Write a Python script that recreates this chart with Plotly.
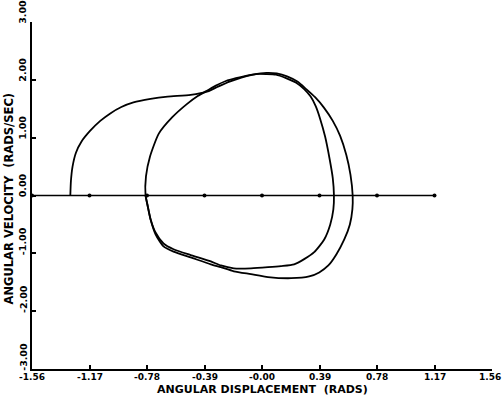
import plotly.graph_objects as go

# Transient trajectory (starts at -1.30 rad, spirals onto the cycle)
trans_x = [-1.30, -1.296, -1.285, -1.262, -1.225, -1.165, -1.097, -1.029, -0.954, -0.872,
           -0.756, -0.640, -0.484, -0.368, -0.30, -0.22, -0.14, -0.06, 0.03, 0.10,
           0.17, 0.24, 0.30, 0.36, 0.42, 0.48, 0.530, 0.572, 0.600, 0.615,
           0.613, 0.596, 0.558, 0.504, 0.450, 0.388, 0.320, 0.197, 0.041, -0.075,
           -0.191, -0.279, -0.347, -0.484, -0.600, -0.668, -0.722, -0.756, -0.777, -0.790]
trans_y = [0.0, 0.25, 0.50, 0.74, 0.93, 1.12, 1.29, 1.42, 1.53, 1.61,
           1.67, 1.71, 1.74, 1.80, 1.88, 1.97, 2.04, 2.09, 2.12, 2.11,
           2.06, 1.97, 1.84, 1.70, 1.52, 1.29, 1.03, 0.70, 0.36, 0.0,
           -0.24, -0.50, -0.76, -1.02, -1.21, -1.33, -1.40, -1.43, -1.41, -1.36,
           -1.31, -1.24, -1.19, -1.07, -0.97, -0.88, -0.67, -0.41, -0.16, 0.0]

# Limit cycle loop
loop_x = [-0.790, -0.787, -0.760, -0.700, -0.610, -0.510, -0.436, -0.368, -0.313, -0.245,
          -0.177, -0.109, -0.041, 0.027, 0.095, 0.163, 0.232, 0.286, 0.330, 0.365,
          0.395, 0.428, 0.458, 0.480, 0.488,
          0.484, 0.463, 0.422, 0.354, 0.286, 0.218, 0.129, 0.041, -0.075, -0.191,
          -0.279, -0.347, -0.484, -0.600, -0.668, -0.722, -0.756, -0.777, -0.790]
loop_y = [0.0, 0.33, 0.67, 1.07, 1.35, 1.58, 1.72, 1.82, 1.90, 1.98,
          2.03, 2.07, 2.10, 2.10, 2.09, 2.03, 1.95, 1.84, 1.71, 1.54,
          1.32, 1.02, 0.64, 0.30, 0.0,
          -0.24, -0.50, -0.76, -0.98, -1.10, -1.19, -1.22, -1.24, -1.26, -1.26,
          -1.21, -1.14, -1.03, -0.93, -0.83, -0.64, -0.41, -0.16, 0.0]

# Zero-velocity reference line with tick dots
zero_x = [-1.56, -1.17, -0.78, -0.39, 0.0, 0.39, 0.78, 1.17]
zero_y = [0, 0, 0, 0, 0, 0, 0, 0]

x_ticks = [-1.56, -1.17, -0.78, -0.39, 0.0, 0.39, 0.78, 1.17, 1.56]
x_labels = ["-1.56", "-1.17", "-0.78", "-0.39", "-0.00", "0.39", "0.78", "1.17", "1.56"]
y_ticks = [-3, -2, -1, 0, 1, 2, 3]
y_labels = ["-3.00", "-2.00", "-1.00", "0.00", "1.00", "2.00", "3.00"]

FONT = "DejaVu Sans"

fig = go.Figure()
fig.add_trace(go.Scatter(x=zero_x, y=zero_y, mode="lines+markers",
                         line=dict(color="black", width=1.5),
                         marker=dict(color="black", size=4), hoverinfo="skip"))
fig.add_trace(go.Scatter(x=trans_x, y=trans_y, mode="lines",
                         line=dict(color="black", width=1.8, shape="spline", smoothing=0.6)))
fig.add_trace(go.Scatter(x=loop_x, y=loop_y, mode="lines",
                         line=dict(color="black", width=1.8, shape="spline", smoothing=0.6)))

annotations = []
for v, t in zip(y_ticks, y_labels):
    annotations.append(dict(x=-0.020, xref="paper", y=v, yref="y", text=t,
                            textangle=-90, showarrow=False, xanchor="center",
                            yanchor="bottom", yshift=-4,
                            font=dict(family=FONT, size=9.5, color="black", weight="bold")))
for i, (v, t) in enumerate(zip(x_ticks, x_labels)):
    last = i == len(x_ticks) - 1
    annotations.append(dict(x=v, xref="x", y=0, yref="paper", text=t,
                            showarrow=False, xanchor="right" if last else "center",
                            xshift=11 if last else 0,
                            yanchor="top", yshift=-1,
                            font=dict(family=FONT, size=9, color="black", weight="bold")))
annotations.append(dict(x=-0.051, xref="paper", y=0.49, yref="paper",
                        text="ANGULAR VELOCITY  (RADS/SEC)", textangle=-90,
                        showarrow=False, xanchor="center", yanchor="middle",
                        font=dict(family=FONT, size=11.5, color="black", weight="bold")))
annotations.append(dict(x=0.5, xref="paper", y=-0.036, yref="paper",
                        text="ANGULAR DISPLACEMENT  (RADS)",
                        showarrow=False, xanchor="center", yanchor="top",
                        font=dict(family=FONT, size=11, color="black", weight="bold")))

fig.update_layout(
    width=504, height=399,
    margin=dict(l=32, r=12, t=22, b=30),
    paper_bgcolor="white", plot_bgcolor="white",
    showlegend=False,
    annotations=annotations,
    xaxis=dict(range=[-1.56, 1.56], tickmode="array", tickvals=x_ticks, showticklabels=False,
               showgrid=False, zeroline=False, showline=True, linecolor="black", linewidth=2,
               ticks="inside", ticklen=4, tickwidth=1.5, tickcolor="black"),
    yaxis=dict(range=[-3, 3], tickmode="array", tickvals=y_ticks, showticklabels=False,
               showgrid=False, zeroline=False, showline=True, linecolor="black", linewidth=2,
               ticks="inside", ticklen=4, tickwidth=1.5, tickcolor="black"),
)

fig.write_html("out.html", config={"displayModeBar": False, "responsive": False},
               post_script="document.body.style.margin='0px';document.documentElement.style.overflow='hidden';")
